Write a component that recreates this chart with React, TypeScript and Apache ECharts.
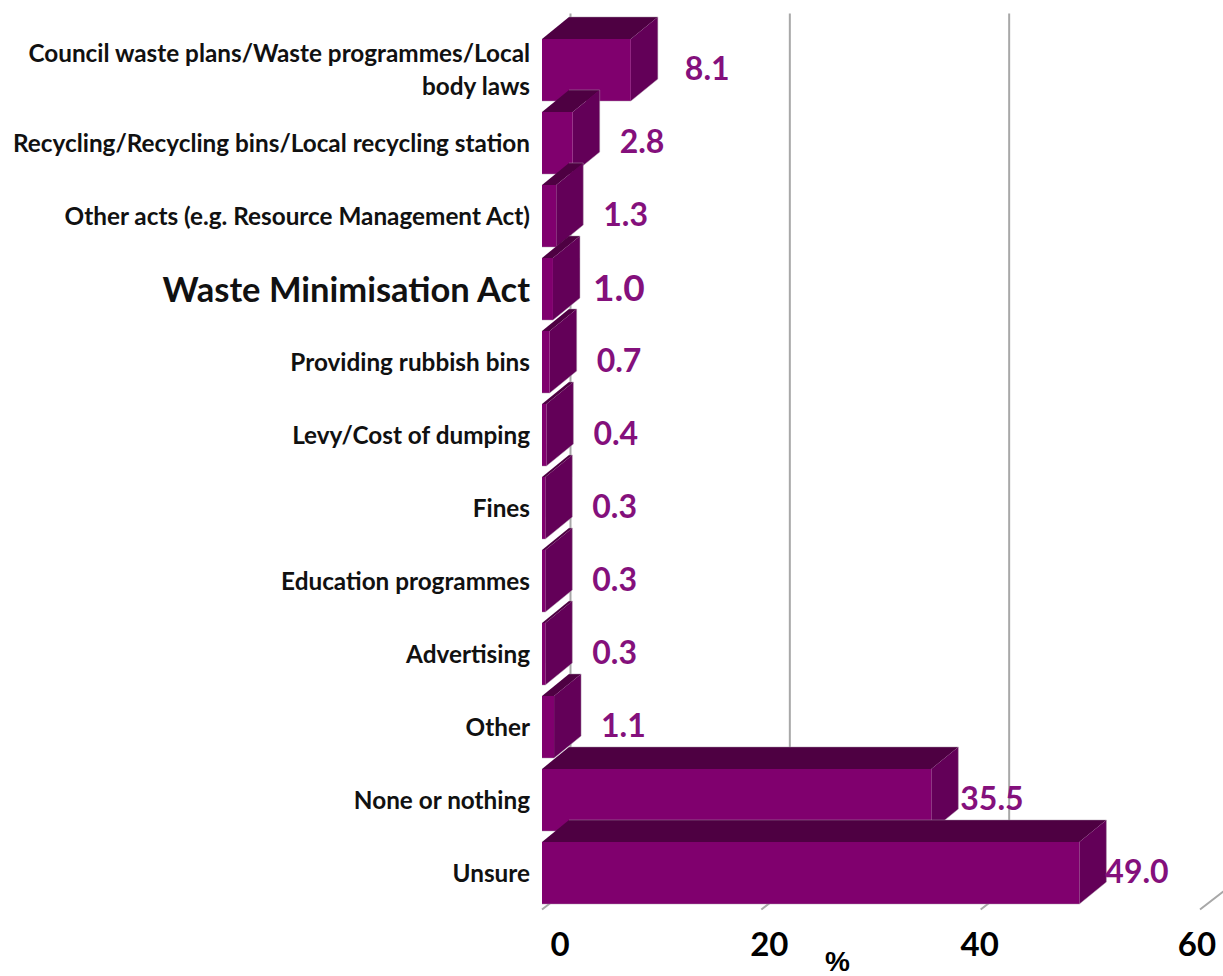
import React, { useEffect, useRef } from "react";
import * as echarts from "echarts";

const categories = [
  "Council waste plans/Waste programmes/Local\nbody laws",
  "Recycling/Recycling bins/Local recycling station",
  "Other acts (e.g. Resource Management Act)",
  "Waste Minimisation Act",
  "Providing rubbish bins",
  "Levy/Cost of dumping",
  "Fines",
  "Education programmes",
  "Advertising",
  "Other",
  "None or nothing",
  "Unsure",
];
const values = [8.1, 2.8, 1.3, 1.0, 0.7, 0.4, 0.3, 0.3, 0.3, 1.1, 35.5, 49.0];
const xTicks = [0, 20, 40, 60];
const highlighted = "Waste Minimisation Act";
const axisUnit = "%";

const DEPTH_X = 27;
const DEPTH_Y = 22;
const GRID_DEPTH_X = 28.5;
const FONT = "Lato, Carlito, sans-serif";
const LABEL_GAP: Record<number, number> = { 0: 54, 3: 40, 10: 29, 11: 26 };
const TICK_NUDGE: Record<string, number> = { "0": 18, "20": 8, "40": -1, "60": -3 };

export default function App() {
  const ref = useRef<HTMLDivElement>(null);
  useEffect(() => {
    const chart = echarts.init(ref.current!, undefined, { renderer: "svg" });
    chart.setOption({
      animation: false,
      backgroundColor: "#ffffff",
      grid: { left: 542, width: 658, top: 33.5, height: 876, outerBoundsMode: "none" },
      graphic: [
        {
          type: "text",
          left: 825,
          top: 947,
          style: {
            text: axisUnit,
            font: 'bold 28px "Liberation Sans"',
            fill: "#000",
          },
        },
      ],
      xAxis: {
        type: "value",
        min: 0,
        max: 60,
        interval: 20,
        axisLine: { show: false },
        axisTick: { show: false },
        splitLine: { show: false },
        axisLabel: {
          margin: 17,
          formatter: (v: number) => `{${v === 0 ? "a" : v === 20 ? "b" : v === 40 ? "c" : "d"}|${v}}`,
          rich: Object.fromEntries(
            xTicks.map((t, i) => {
              const n = TICK_NUDGE[String(t)];
              return [
                "abcd"[i],
                {
                  fontFamily: FONT,
                  fontWeight: "bold",
                  fontSize: 33,
                  color: "#000",
                  padding: n > 0 ? [0, 0, 0, 2 * n] : [0, -2 * n, 0, 0],
                },
              ];
            })
          ),
        },
      },
      yAxis: {
        type: "category",
        inverse: true,
        data: categories,
        axisLine: { show: false },
        axisTick: { show: false },
        splitLine: { show: false },
        axisLabel: {
          margin: 12,
          align: "right",
          interval: 0,
          padding: [0, 0, 2, 0],
          formatter: (s: string) =>
            s === highlighted
              ? `{big|${s}}`
              : s
                  .split("\n")
                  .map((l) => `{n|${l}}`)
                  .join("\n"),
          rich: {
            n: {
              fontFamily: FONT,
              fontWeight: "bold",
              fontSize: 24.3,
              lineHeight: 33,
              color: "#111",
              align: "right",
            },
            big: {
              fontFamily: FONT,
              fontWeight: "bold",
              fontSize: 34.5,
              color: "#111",
              align: "right",
            },
          },
        },
      },
      series: [
        {
          type: "custom",
          z: 1,
          silent: true,
          data: xTicks.map((t) => [t, 0]),
          encode: { x: 0, y: 1 },
          renderItem: (params: any, api: any) => {
            const x = api.coord([api.value(0), 0])[0];
            const cs = params.coordSys;
            const bottom = cs.y + cs.height;
            const backTop = cs.y - DEPTH_Y + 2;
            return {
              type: "polyline",
              shape: {
                points: [
                  [x, bottom],
                  [x + GRID_DEPTH_X, bottom - DEPTH_Y],
                  [x + GRID_DEPTH_X, backTop],
                ],
              },
              style: { stroke: "#a8a8a8", lineWidth: 2, fill: "none" },
            };
          },
        },
        {
          type: "custom",
          z: 2,
          silent: true,
          data: values.map((v, i) => [v, i]),
          encode: { x: 0, y: 1 },
          renderItem: (params: any, api: any) => {
            const v = api.value(0);
            const i = params.dataIndex;
            const [x0, yc] = api.coord([0, i]);
            const [x1] = api.coord([v, i]);
            const h = api.size([0, 1])[1] * 0.85;
            const t = yc - h / 2;
            const b = yc + h / 2;
            const dx = DEPTH_X;
            const dy = DEPTH_Y;
            const big = categories[i] === highlighted;
            return {
              type: "group",
              children: [
                {
                  type: "polygon",
                  shape: { points: [[x0, t], [x0 + dx, t - dy], [x1 + dx, t - dy], [x1, t]] },
                  style: { fill: "#4e0042" },
                },
                {
                  type: "polygon",
                  shape: { points: [[x1, t], [x1 + dx, t - dy], [x1 + dx, b - dy], [x1, b]] },
                  style: { fill: "#630058" },
                },
                {
                  type: "rect",
                  shape: { x: x0, y: t, width: x1 - x0, height: b - t },
                  style: { fill: "#80006e" },
                },
                {
                  type: "polyline",
                  shape: {
                    points: [
                      [x0, b], [x1, b], [x1 + dx, b - dy], [x1 + dx, t - dy], [x0 + dx, t - dy],
                    ],
                  },
                  style: { stroke: "rgba(170,150,170,0.45)", lineWidth: 1, fill: "none" },
                },
                {
                  type: "text",
                  style: {
                    text: v.toFixed(1),
                    x: x1 + (LABEL_GAP[i] ?? 47),
                    y: yc - 3,
                    fill: "#84107c",
                    font: `bold ${big ? 37 : 32}px ${FONT}`,
                    textAlign: "left",
                    textVerticalAlign: "middle",
                  },
                },
              ],
            };
          },
        },
      ],
    });
    return () => chart.dispose();
  }, []);
  return (
    <div
      ref={ref}
      style={{ position: "absolute", left: 0, top: 0, width: 1223, height: 976 }}
    />
  );
}
